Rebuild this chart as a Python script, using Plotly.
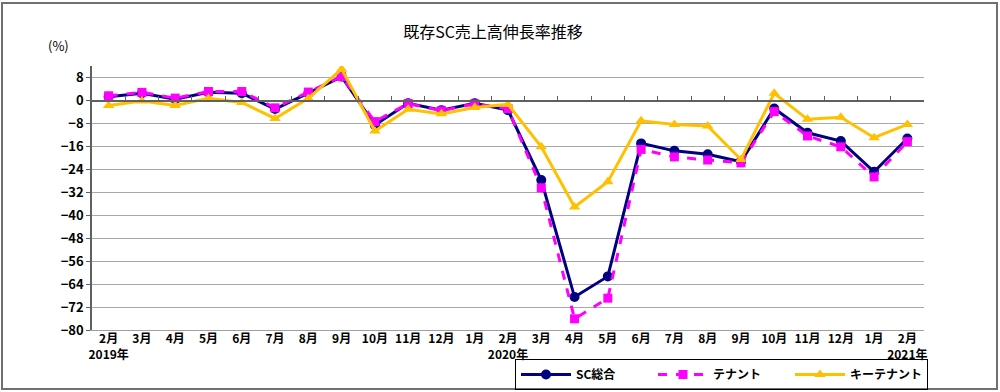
import plotly.graph_objects as go

months = ["2月", "3月", "4月", "5月", "6月", "7月", "8月", "9月", "10月", "11月", "12月", "1月",
          "2月", "3月", "4月", "5月", "6月", "7月", "8月", "9月", "10月", "11月", "12月", "1月", "2月"]
years = {0: "2019年", 12: "2020年", 24: "2021年"}

sc_total = [1.4, 2.6, 0.5, 2.9, 2.6, -2.9, 2.6, 8.4, -8.5, -0.9, -3.3, -0.9,
            -3.3, -27.7, -68.5, -61.3, -14.9, -17.5, -18.7, -21.3, -2.7, -11.2, -14.1, -24.8, -13.2]
tenant = [1.7, 2.9, 0.9, 3.2, 3.2, -2.5, 3.0, 8.4, -7.3, -1.0, -3.5, -1.1,
          -2.8, -30.4, -76.1, -68.9, -17.0, -19.6, -20.7, -21.7, -3.8, -12.3, -16.1, -26.6, -14.3]
key_tenant = [-1.7, -0.1, -1.7, 0.8, -0.6, -6.2, 0.8, 11.0, -10.6, -3.0, -4.6, -2.4,
              -1.3, -16.1, -37.1, -28.3, -7.0, -8.3, -8.8, -20.5, 2.6, -6.5, -5.8, -12.9, -8.3]

y_ticks = list(range(-80, 9, 8))

x = list(range(len(months)))
ticktext = [m + ("<br>" + years[i] if i in years else "") for i, m in enumerate(months)]

FONT = "Noto Sans CJK JP"
W, H = 1000, 392
# plot area in pixels
PX0, PX1, PY0, PY1 = 92, 924, 66, 330

def px(v):
    return v / W

def py(v):
    return (H - v) / H

fig = go.Figure()
fig.add_trace(go.Scatter(x=x, y=sc_total, name="SC総合", mode="lines+markers",
                         line=dict(color="#000080", width=3),
                         marker=dict(symbol="circle", size=10, color="#000080")))
fig.add_trace(go.Scatter(x=x, y=tenant, name="テナント", mode="lines+markers",
                         line=dict(color="#FF00FF", width=3, dash="dash"),
                         marker=dict(symbol="square", size=9, color="#FF00FF")))
fig.add_trace(go.Scatter(x=x, y=key_tenant, name="キーテナント", mode="lines+markers",
                         line=dict(color="#FFC000", width=3),
                         marker=dict(symbol="triangle-up", size=10, color="#FFC000")))
# invisible trace to activate the zero-line axis
fig.add_trace(go.Scatter(x=[0], y=[None], xaxis="x2", showlegend=False, hoverinfo="skip"))

ymin, ymax = -80, 12.1
yd0, yd1 = py(PY1), py(PY0)
zero_pos = yd0 + (0 - ymin) / (ymax - ymin) * (yd1 - yd0)

fig.update_layout(
    width=W, height=H,
    margin=dict(l=0, r=0, t=0, b=0, autoexpand=False),
    paper_bgcolor="white", plot_bgcolor="white",
    font=dict(family=FONT, color="black", size=12),
    title=dict(text="既存SC売上高伸長率推移", x=px(493), xref="container", xanchor="center",
               y=py(32), yref="container", yanchor="middle",
               font=dict(family=FONT, size=16, color="black")),
    showlegend=True,
    legend=dict(orientation="h", x=px(928), xanchor="right",
                y=py(359), yanchor="top",
                bordercolor="black", borderwidth=1, bgcolor="rgba(0,0,0,0)",
                font=dict(family=FONT, size=12, color="black", weight="bold"),
                itemwidth=50, traceorder="normal",
                entrywidthmode="pixels", entrywidth=72),
    xaxis=dict(domain=[px(PX0), px(PX1)], range=[-0.5, len(months) - 0.5],
               tickmode="array", tickvals=x, ticktext=ticktext, automargin=False,
               showgrid=False, zeroline=False, showline=True, linecolor="#A0A0A0", linewidth=1,
               ticks="", ticklabelstandoff=-2,
               tickfont=dict(family=FONT, size=12, color="black", weight="bold"),
               fixedrange=True),
    xaxis2=dict(domain=[px(PX0), px(PX1)], range=[-0.5, len(months) - 0.5],
                overlaying="x", anchor="free", position=zero_pos, side="bottom",
                tickmode="array", tickvals=[i - 0.5 for i in range(len(months) + 1)],
                showticklabels=False, ticks="inside", ticklen=4, tickcolor="#606060",
                automargin=False,
                showgrid=False, zeroline=False, showline=True, linecolor="#606060", linewidth=1.5),
    yaxis=dict(domain=[yd0, yd1], range=[ymin, ymax], tickmode="array", tickvals=y_ticks,
               automargin=False,
               showgrid=True, gridcolor="#A8A8A8", gridwidth=1, zeroline=False,
               showline=True, linecolor="#606060", linewidth=1.5,
               ticks="outside", ticklen=4, tickcolor="#606060",
               tickfont=dict(family=FONT, size=13, color="black", weight="bold"),
               fixedrange=True),
)

fig.add_annotation(text="(%)", xref="paper", yref="paper", x=px(58), y=py(46),
                   showarrow=False, xanchor="center", yanchor="middle",
                   font=dict(family=FONT, size=13, color="black"))

fig.add_shape(type="rect", xref="paper", yref="paper",
              x0=px(2), x1=px(997), y0=py(389), y1=py(3),
              line=dict(color="#707070", width=2), fillcolor="rgba(0,0,0,0)", layer="below")

fig.write_html("out.html", config={"displayModeBar": False},
               post_script="document.body.style.margin='0';document.body.style.overflow='hidden';")
